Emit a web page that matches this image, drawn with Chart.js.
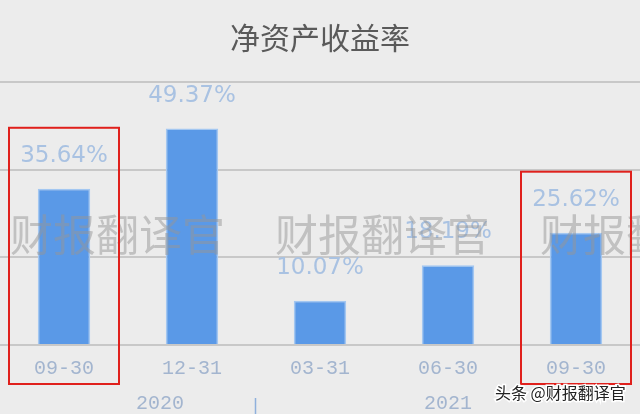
<!DOCTYPE html>
<html>
<head>
<meta charset="utf-8">
<script src="https://cdn.jsdelivr.net/npm/chart.js@4"></script>
<style>
  html, body { margin: 0; padding: 0; background: #ececec; }
  #wrap { width: 640px; height: 414px; }
</style>
</head>
<body>
<div id="wrap"><canvas id="chart"></canvas></div>
<script>
// Report dates and ROE values (%)
const dates = ["09-30", "12-31", "03-31", "06-30", "09-30"];
const roe = [35.64, 49.37, 10.07, 18.19, 25.62];
// Year labels under the dates (position given as category index)
const years = ["2020", "2021"];
const yearAt = [0.75, 3];
const yearSplitAt = [1.5];
// Highlighted bars (red boxes)
const highlighted = [0, 4];

const FONT = "'Noto Sans CJK SC', 'DejaVu Sans', sans-serif";

// Draws value labels, year row, watermarks and red boxes
const extras = {
  id: "extras",
  afterDatasetsDraw(chart) {
    const ctx = chart.ctx;
    const x = chart.scales.x;
    const meta = chart.getDatasetMeta(0);
    ctx.save();

    // value labels above bars
    ctx.font = "23px 'DejaVu Sans', sans-serif";
    ctx.fillStyle = "#a9c2e2";
    ctx.textAlign = "center";
    ctx.textBaseline = "middle";
    meta.data.forEach((bar, i) => {
      ctx.fillText(roe[i].toFixed(2) + "%", bar.x, bar.y - 33);
    });

    // watermark
    ctx.font = "43px " + FONT;
    ctx.fillStyle = "rgba(150,150,150,0.5)";
    ctx.textAlign = "left";
    [10, 275, 540].forEach((wx) => ctx.fillText("财报翻译官", wx, 235));

    // year row
    ctx.font = "20px 'Liberation Mono', monospace";
    ctx.fillStyle = "#a3b5cf";
    ctx.textAlign = "center";
    years.forEach((y, i) => ctx.fillText(y, x.getPixelForValue(yearAt[i]), 404));
    ctx.strokeStyle = "#8fb0dc";
    ctx.lineWidth = 1.5;
    yearSplitAt.forEach((v) => {
      const px = Math.round(x.getPixelForValue(v)) - 0.5;
      ctx.beginPath();
      ctx.moveTo(px, 398);
      ctx.lineTo(px, 414);
      ctx.stroke();
    });

    // red boxes round highlighted bars
    ctx.strokeStyle = "#e0201c";
    ctx.lineWidth = 2;
    highlighted.forEach((i) => {
      const bar = meta.data[i];
      const top = bar.y - 61;
      ctx.strokeRect(bar.x - 55, top, 110, 384 - top);
    });

    // source tag
    ctx.font = "16px " + FONT;
    ctx.textAlign = "left";
    ctx.lineWidth = 3;
    ctx.strokeStyle = "#ffffff";
    ctx.strokeText("头条 @财报翻译官", 495, 393);
    ctx.fillStyle = "#222222";
    ctx.fillText("头条 @财报翻译官", 495, 393);
    ctx.restore();
  },
};

new Chart(document.getElementById("chart"), {
  type: "bar",
  data: {
    labels: dates,
    datasets: [
      {
        label: "净资产收益率",
        data: roe,
        backgroundColor: "#5a99e7",
        borderColor: "#a3c7f1",
        borderWidth: 1.5,
        barPercentage: 0.41,
        categoryPercentage: 1,
      },
    ],
  },
  plugins: [extras],
  options: {
    responsive: true,
    maintainAspectRatio: false,
    animation: false,
    layout: { padding: { left: 0, right: 0, top: 0, bottom: 21 } },
    plugins: {
      legend: { display: false },
      tooltip: { enabled: false },
      title: {
        display: true,
        text: "净资产收益率",
        color: "#5a5a5a",
        font: { family: FONT, size: 30, weight: "normal" },
        padding: { top: 20, bottom: 26 },
      },
    },
    scales: {
      x: {
        grid: { display: false, drawTicks: false },
        border: { display: false },
        ticks: {
          color: "#a3b5cf",
          font: { family: "'Liberation Mono', monospace", size: 20 },
          padding: 12,
        },
      },
      y: {
        min: 0,
        max: 60,
        ticks: { display: false, stepSize: 20 },
        grid: { color: "#c8c8c8", lineWidth: 2, drawTicks: false },
        border: { display: false },
      },
    },
  },
});
</script>
</body>
</html>
